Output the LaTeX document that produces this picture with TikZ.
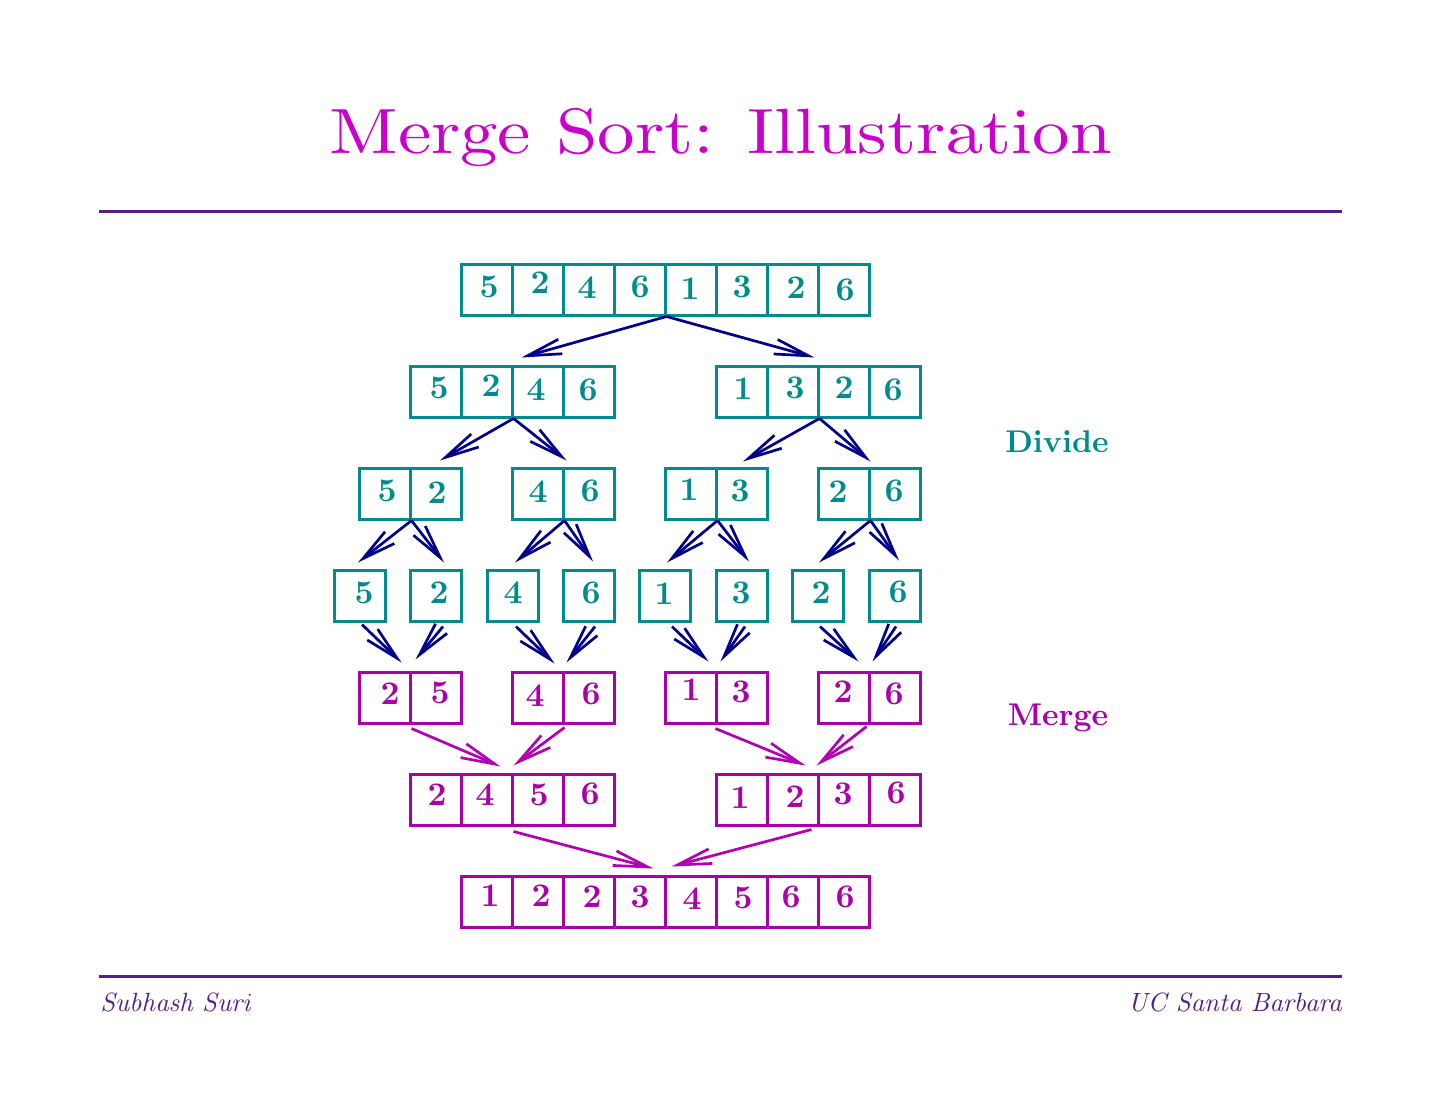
\documentclass[tikz,border=0pt]{standalone}
\usepackage{graphicx}
\usetikzlibrary{arrows.meta}
\definecolor{tealc}{RGB}{0,140,140}
\definecolor{magc}{RGB}{170,0,170}
\definecolor{titlec}{RGB}{204,0,204}
\definecolor{navyc}{RGB}{0,0,140}
\definecolor{marrow}{RGB}{180,0,180}
\definecolor{rulec}{RGB}{85,30,135}
\font\titlefnt=cmr10 at 32pt
\font\digfnt=cmbx10 at 16.5pt
\font\labfnt=cmbx10 at 15.7pt
\font\footfnt=cmti10 at 13.2pt
\begin{document}
\begin{tikzpicture}[x=0.5pt,y=-0.5pt,
  cellT/.style={draw=tealc,line width=1.5pt,minimum size=25.5pt,inner sep=0pt},
  cellM/.style={draw=magc,line width=1.5pt,minimum size=25.5pt,inner sep=0pt},
  numT/.style={text=tealc,font=\digfnt,inner sep=0pt},
  numM/.style={text=magc,font=\digfnt,inner sep=0pt},
  darr/.style={draw=navyc,line width=1.35pt,-{Straight Barb[length=17pt,width=7.5pt]}},
  marr/.style={draw=marrow,line width=1.35pt,-{Straight Barb[length=17pt,width=7.5pt]}},
  rulestyle/.style={draw=rulec,line width=1.5pt},
  foot/.style={text=rulec,font=\footfnt,inner sep=0pt}]
\useasboundingbox (0,0) rectangle (1440,1113);

% title and rules
\node[text=titlec,anchor=base,inner sep=0pt] (title) at (721,154) {\scalebox{1.17}[1]{\titlefnt Merge Sort: Illustration}};
\coordinate (r1a) at (99,211); \coordinate (r1b) at (1342,211);
\draw[rulestyle] (r1a) -- (r1b);
\coordinate (r2a) at (99,976); \coordinate (r2b) at (1342,976);
\draw[rulestyle] (r2a) -- (r2b);
\node[foot,anchor=base west] (author) at (100,1011) {Subhash Suri};
\node[foot,anchor=base east] (inst) at (1342,1011) {UC Santa Barbara};

% labels
\node[text=tealc,font=\labfnt,anchor=base,inner sep=0pt] (divide) at (1057,452) {Divide};
\node[text=magc,font=\labfnt,anchor=base,inner sep=0pt] (merge) at (1058,725) {Merge};

% row a
\foreach \n/\x/\tx/\ty/\d in {1/486.5/489/287/5,2/537.5/540/283/2,3/588.5/587/288/4,4/639.5/640/287/6,5/690.5/690/289/1,6/741.5/742/287/3,7/792.5/796/288/2,8/843.5/845/290/6}{
  \node[cellT] (a\n) at (\x,289.5) {};
  \node[numT] (ta\n) at (\tx,\ty) {\d};
}
% row b
\foreach \n/\x/\tx/\ty/\d in {1/435.5/439/388/5,2/486.5/491/386/2,3/537.5/536/390/4,4/588.5/588/390/6,5/741.5/743/389/1,6/792.5/795/388/3,7/843.5/844/388/2,8/894.5/893/390/6}{
  \node[cellT] (b\n) at (\x,391.5) {};
  \node[numT] (tb\n) at (\tx,\ty) {\d};
}
% row c
\foreach \n/\x/\tx/\ty/\d in {1/384.5/387/491/5,2/435.5/437/493/2,3/537.5/538/492/4,4/588.5/590/491/6,5/690.5/689/490/1,6/741.5/740/491/3,7/843.5/838/492/2,8/894.5/894/491/6}{
  \node[cellT] (c\n) at (\x,493.5) {};
  \node[numT] (tc\n) at (\tx,\ty) {\d};
}
% row d
\foreach \n/\x/\tx/\ty/\d in {1/359.5/364/593/5,2/435.5/439/593/2,3/512.5/513/593/4,4/588.5/591/593/6,5/664.5/664/594/1,6/741.5/741/593/3,7/817.5/821/593/2,8/894.5/898/592/6}{
  \node[cellT] (d\n) at (\x,595.5) {};
  \node[numT] (td\n) at (\tx,\ty) {\d};
}
% row e
\foreach \n/\x/\tx/\ty/\d in {1/384.5/390/694/2,2/435.5/440/693/5,3/537.5/535/696/4,4/588.5/591/694/6,5/690.5/691/690/1,6/741.5/741/692/3,7/843.5/843/692/2,8/894.5/894/694/6}{
  \node[cellM] (e\n) at (\x,697.5) {};
  \node[numM] (te\n) at (\tx,\ty) {\d};
}
% row f
\foreach \n/\x/\tx/\ty/\d in {1/435.5/437/795/2,2/486.5/485/795/4,3/537.5/539/795/5,4/588.5/590/794/6,5/741.5/740/798/1,6/792.5/795/797/2,7/843.5/843/794/3,8/894.5/896/793/6}{
  \node[cellM] (f\n) at (\x,799.5) {};
  \node[numM] (tf\n) at (\tx,\ty) {\d};
}
% row g
\foreach \n/\x/\tx/\ty/\d in {1/486.5/490/896/1,2/537.5/541/896/2,3/588.5/592/897/2,4/639.5/640/897/3,5/690.5/692/899/4,6/741.5/743/898/5,7/792.5/791/897/6,8/843.5/845/897/6}{
  \node[cellM] (g\n) at (\x,901.5) {};
  \node[numM] (tg\n) at (\tx,\ty) {\d};
}

% divide arrows
\draw[darr] (a4.south east) -- ([shift={(8,-7)}]b2.north east);
\draw[darr] (a4.south east) -- ([shift={(-5,-7)}]b6.north east);
\draw[darr] (b2.south east) -- ([shift={(4.5,-6)}]c2.north);
\draw[darr] (b2.south east) -- ([shift={(5,-6)}]c4.north west);
\draw[darr] (b6.south east) -- ([shift={(1.5,-5)}]c6.north);
\draw[darr] (b6.south east) -- ([shift={(3,-5)}]c8.north west);
\draw[darr] (c1.south east) -- ([shift={(-1.5,-6)}]d1.north);
\draw[darr] (c1.south east) -- ([shift={(8.5,-6)}]d2.north);
\draw[darr] (c3.south east) -- ([shift={(2.5,-6)}]d3.north);
\draw[darr] (c3.south east) -- ([shift={(4.5,-7)}]d4.north);
\draw[darr] (c5.south east) -- ([shift={(2.5,-6)}]d5.north);
\draw[darr] (c5.south east) -- ([shift={(7.5,-7)}]d6.north);
\draw[darr] (c7.south east) -- ([shift={(1.5,-6)}]d7.north);
\draw[darr] (c7.south east) -- ([shift={(4.5,-8)}]d8.north);

% singles into merged pairs
\draw[darr] ([shift={(2.5,2)}]d1.south) -- ([shift={(-10,-8)}]e1.north east);
\draw[darr] ([shift={(7.5,4)}]d2.south) -- ([shift={(7,-11)}]e2.north west);
\draw[darr] ([shift={(3.5,4)}]d3.south) -- ([shift={(-7,-7)}]e4.north west);
\draw[darr] ([shift={(6.5,4)}]d4.south) -- ([shift={(5,-8)}]e4.north west);
\draw[darr] ([shift={(7.5,4)}]d5.south) -- ([shift={(-6,-9)}]e6.north west);
\draw[darr] ([shift={(3.5,4)}]d6.south) -- ([shift={(6,-9)}]e6.north west);
\draw[darr] ([shift={(2.5,4)}]d7.south) -- ([shift={(-9,-9)}]e8.north west);
\draw[darr] ([shift={(1.5,4)}]d8.south) -- ([shift={(5,-9)}]e8.north west);

% merge arrows
\draw[marr] ([shift={(3,4)}]e2.south west) -- ([shift={(-10,-6)}]f3.north west);
\draw[marr] ([shift={(3,3)}]e4.south west) -- ([shift={(3,-7)}]f3.north west);
\draw[marr] ([shift={(1,4)}]e6.south west) -- ([shift={(-11,-7)}]f7.north west);
\draw[marr] ([shift={(-1,2)}]e8.south west) -- ([shift={(0,-7)}]f7.north west);
\draw[marr] ([shift={(3,5)}]f3.south west) -- ([shift={(-10,-6)}]g5.north west);
\draw[marr] ([shift={(-5,3)}]f7.south west) -- ([shift={(8,-8)}]g5.north west);
\end{tikzpicture}
\end{document}
